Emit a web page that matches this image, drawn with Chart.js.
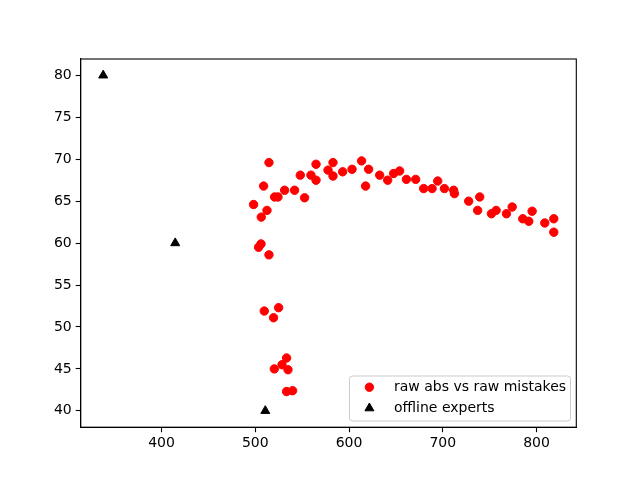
<!DOCTYPE html>
<html>
<head>
<meta charset="utf-8">
<script src="https://cdn.jsdelivr.net/npm/chart.js@4/dist/chart.umd.min.js"></script>
<style>
  html, body { margin: 0; padding: 0; background: #fff; }
  #wrap { width: 640px; height: 480px; }
</style>
</head>
<body>
<div id="wrap"><canvas id="chart"></canvas></div>
<script>
// raw abs vs raw mistakes
const rawX = [498.2, 506.4, 512.5, 508.9, 514.6, 503.5, 506.1, 514.6, 509.6, 524.9,
  519.5, 533.4, 520.3, 528.5, 534.9, 533.4, 539.8, 520.6, 524.2, 531.3,
  541.9, 552.6, 548.0, 559.4, 564.8, 564.8, 577.6, 582.9, 582.9, 593.2,
  603.2, 613.4, 620.9, 617.7, 632.7, 641.2, 647.6, 654.0, 661.2, 671.1,
  679.6, 688.6, 694.6, 701.7, 711.6, 712.4, 727.6, 739.4, 737.2, 751.9,
  756.9, 767.9, 774.0, 785.3, 791.7, 795.3, 808.8, 818.4, 818.4];
const rawY = [64.6, 63.1, 63.9, 66.8, 69.6, 59.5, 59.9, 58.6, 51.9, 52.3,
  51.1, 46.3, 45.0, 45.5, 44.9, 42.3, 42.4, 65.5, 65.5, 66.3,
  66.3, 65.4, 68.1, 68.1, 67.5, 69.4, 68.7, 69.6, 68.0, 68.5,
  68.8, 69.8, 68.8, 66.8, 68.1, 67.5, 68.3, 68.6, 67.6, 67.6,
  66.5, 66.5, 67.4, 66.5, 66.3, 65.9, 65.0, 65.5, 63.9, 63.5,
  63.9, 63.5, 64.3, 62.9, 62.6, 63.8, 62.4, 62.9, 61.3];

// offline experts
const expertX = [337.8, 414.6, 510.7];
const expertY = [80, 60, 40];

const xTicks = [400, 500, 600, 700, 800];
const yTicks = [40, 45, 50, 55, 60, 65, 70, 75, 80];

const FONT = "'DejaVu Sans', sans-serif";

const toPoints = (xs, ys) => xs.map((x, i) => ({ x: x, y: ys[i] }));

// axes frame on all four sides, like matplotlib
const framePlugin = {
  id: 'frame',
  afterDatasetsDraw(chart) {
    const { ctx, chartArea: a } = chart;
    ctx.save();
    ctx.strokeStyle = '#000';
    ctx.lineWidth = 1.1;
    ctx.strokeRect(a.left, a.top, a.right - a.left, a.bottom - a.top);
    ctx.restore();
  }
};

// legend box in the lower right of the plot area
const legendPlugin = {
  id: 'boxLegend',
  afterDraw(chart) {
    const { ctx, chartArea: a } = chart;
    const w = 221, h = 45;
    const x0 = a.right - 6.3 - w, y0 = a.bottom - 6.7 - h;
    ctx.save();
    ctx.fillStyle = 'rgba(255,255,255,0.8)';
    ctx.strokeStyle = '#cccccc';
    ctx.lineWidth = 1;
    ctx.beginPath();
    ctx.roundRect(x0 + 0.5, y0 + 0.5, w, h, 3);
    ctx.fill();
    ctx.stroke();
    ctx.font = '14px ' + FONT;
    ctx.textBaseline = 'middle';
    chart.data.datasets.forEach((ds, i) => {
      const cx = x0 + 20.4, cy = y0 + 11.7 + i * 21;
      const r = ds.pointRadius;
      ctx.fillStyle = ds.backgroundColor;
      ctx.strokeStyle = ds.borderColor;
      ctx.lineWidth = ds.borderWidth;
      ctx.beginPath();
      if (ds.pointStyle === 'circle') {
        ctx.arc(cx, cy, r, 0, Math.PI * 2);
      } else {
        ctx.moveTo(cx, cy - r);
        ctx.lineTo(cx + r * 0.866, cy + r * 0.5);
        ctx.lineTo(cx - r * 0.866, cy + r * 0.5);
        ctx.closePath();
      }
      ctx.fill();
      ctx.stroke();
      ctx.fillStyle = '#000';
      ctx.fillText(ds.label, x0 + 45, cy);
    });
    ctx.restore();
  }
};

new Chart(document.getElementById('chart'), {
  type: 'scatter',
  data: {
    datasets: [
      {
        label: 'raw abs vs raw mistakes',
        data: toPoints(rawX, rawY),
        pointStyle: 'circle',
        pointRadius: 4.2,
        pointHoverRadius: 4.2,
        borderWidth: 1,
        backgroundColor: '#ff0000',
        borderColor: '#ff0000'
      },
      {
        label: 'offline experts',
        data: toPoints(expertX, expertY),
        pointStyle: 'triangle',
        pointRadius: 5.2,
        pointHoverRadius: 5.2,
        borderWidth: 1,
        backgroundColor: '#000000',
        borderColor: '#000000'
      }
    ]
  },
  options: {
    responsive: true,
    maintainAspectRatio: false,
    animation: false,
    events: [],
    layout: { padding: { left: 0, right: 63.7, top: 59, bottom: 0 } },
    plugins: {
      legend: { display: false },
      tooltip: { enabled: false }
    },
    scales: {
      x: {
        type: 'linear',
        min: 313.8,
        max: 842.4,
        afterBuildTicks(scale) { scale.ticks = xTicks.map(v => ({ value: v })); },
        afterFit(scale) { scale.height = 52.8; },
        grid: { drawOnChartArea: false, drawTicks: true, tickLength: 5, tickColor: '#000', tickWidth: 1.1 },
        border: { display: true, color: '#000', width: 1.1 },
        ticks: { color: '#000', padding: 3, font: { family: FONT, size: 14 }, maxRotation: 0 }
      },
      y: {
        type: 'linear',
        min: 38.05,
        max: 81.95,
        afterBuildTicks(scale) { scale.ticks = yTicks.map(v => ({ value: v })); },
        afterFit(scale) { scale.width = 80.7; },
        grid: { drawOnChartArea: false, drawTicks: true, tickLength: 5, tickColor: '#000', tickWidth: 1.1 },
        border: { display: true, color: '#000', width: 1.1 },
        ticks: { color: '#000', padding: 4, font: { family: FONT, size: 14 } }
      }
    }
  },
  plugins: [framePlugin, legendPlugin]
});
</script>
</body>
</html>
